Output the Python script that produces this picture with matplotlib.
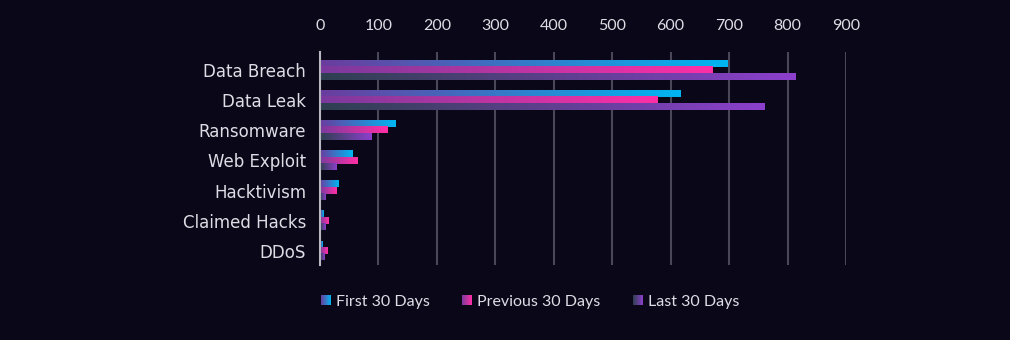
import numpy as np
import matplotlib
matplotlib.use('Agg')
import matplotlib.pyplot as plt
from matplotlib.colors import LinearSegmentedColormap
from matplotlib.patches import Patch
from matplotlib.legend_handler import HandlerBase
from matplotlib.image import BboxImage
from matplotlib.transforms import Bbox, TransformedBbox

plt.rcParams['font.family'] = ['Lato', 'DejaVu Sans']

categories = ['Data Breach', 'Data Leak', 'Ransomware', 'Web Exploit',
              'Hacktivism', 'Claimed Hacks', 'DDoS']
first_30 = [698, 617, 130, 56, 31, 6, 5]
previous_30 = [672, 577, 116, 65, 28, 15, 12]
last_30 = [814, 761, 88, 28, 10, 10, 8]
series_names = ['First 30 Days', 'Previous 30 Days', 'Last 30 Days']
xticks = [0, 100, 200, 300, 400, 500, 600, 700, 800, 900]

bg = '#0a0718'
txt = '#dedce4'
grads = [('#6b3c9e', '#00b6f2'), ('#7a3a9e', '#ff2fa6'), ('#2e3f50', '#8c40cc')]
cmaps = [LinearSegmentedColormap.from_list(n, list(g)) for n, g in zip(series_names, grads)]

fig = plt.figure(figsize=(10.1, 3.4), dpi=100, facecolor=bg)
ax = fig.add_axes([0.3168, 0.221, 0.5208, 0.626])
ax.set_facecolor(bg)

y = np.arange(len(categories))
h = 0.21
offsets = [-h, 0, h]
grad = np.linspace(0, 1, 256).reshape(1, -1)
for vals, off, cmap in zip([first_30, previous_30, last_30], offsets, cmaps):
    bars = ax.barh(y + off, vals, height=h, color='none', edgecolor='none')
    for b in bars:
        x0, y0 = b.get_x(), b.get_y()
        w, hh = b.get_width(), b.get_height()
        ax.imshow(grad, extent=[x0, x0 + w, y0 + hh, y0], aspect='auto',
                  cmap=cmap, zorder=3, interpolation='bilinear')

ax.set_xlim(0, 900)
ax.set_ylim(6.47, -0.6)
ax.set_yticks(y)
ax.set_yticklabels(categories, color=txt, fontsize=12, family=['DejaVu Sans'])
ax.set_xticks(xticks)
ax.set_xticklabels([str(t) for t in xticks], color=txt, fontsize=11.5)
ax.xaxis.tick_top()
ax.tick_params(length=0, pad=10)
ax.tick_params(axis='x', pad=14)
ax.grid(axis='x', color='#4a4858', linewidth=1.5, zorder=0)
ax.set_axisbelow(True)
for s in ['top', 'right', 'bottom']:
    ax.spines[s].set_visible(False)
ax.spines['left'].set_color('#b8b6c0')
ax.spines['left'].set_linewidth(1.5)
ax.spines['left'].set_zorder(4)


class GradHandler(HandlerBase):
    def __init__(self, cmap):
        super().__init__()
        self.cmap = cmap

    def create_artists(self, legend, orig_handle, xdescent, ydescent,
                       width, height, fontsize, trans):
        s = min(width, height)
        bb = Bbox.from_bounds(-xdescent, -ydescent + (height - s) / 2, s, s)
        im = BboxImage(TransformedBbox(bb, trans), cmap=self.cmap,
                       interpolation='bilinear')
        im.set_data(grad)
        return [im]


handles = [Patch(facecolor=g[1], edgecolor='none') for g in grads]
leg = fig.legend(handles, series_names, loc='center', bbox_to_anchor=(0.525, 0.112),
                 ncol=3, frameon=False, fontsize=11.5, handlelength=0.6, handleheight=0.6,
                 handletextpad=0.35, columnspacing=2.0,
                 handler_map={hd: GradHandler(c) for hd, c in zip(handles, cmaps)})
for t in leg.get_texts():
    t.set_color(txt)

fig.savefig('out.png', dpi=100, facecolor=bg)
